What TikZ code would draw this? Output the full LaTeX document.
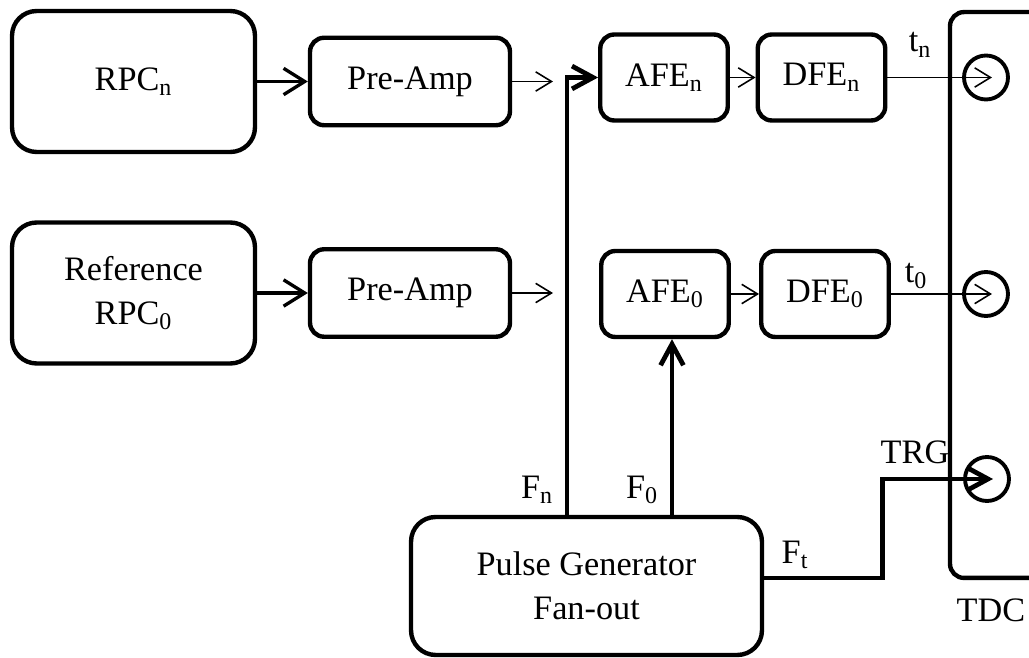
\documentclass[tikz,border=0pt]{standalone}
\usepackage{fontspec}
\setmainfont{Liberation Serif}
\usepackage{tikz}
\usetikzlibrary{positioning,arrows.meta,calc}

\begin{document}
\begin{tikzpicture}[
    x=0.02cm, y=-0.02cm,
    font=\fontsize{19.5}{25}\selectfont,
    detector/.style={draw, line width=2.5pt, rounded corners=14pt, align=center,
        minimum width=4.86cm, minimum height=2.82cm},
    amp/.style={draw, line width=2.5pt, rounded corners=8pt, align=center,
        minimum width=4cm, minimum height=1.75cm},
    frontend/.style={draw, line width=2.5pt, rounded corners=8pt, align=center,
        minimum width=2.55cm, minimum height=1.72cm},
    fanout/.style={draw, line width=2.5pt, rounded corners=14pt, align=center,
        minimum width=7.02cm, minimum height=2.76cm},
    tdcbox/.style={draw, line width=2.5pt, rounded corners=8pt,
        minimum width=2.4cm, minimum height=11.32cm},
    port/.style={draw, circle, line width=2.2pt, minimum size=0.88cm, inner sep=0pt},
    thinarrow/.style={-{Straight Barb[length=9pt,width=11pt]}, line width=0.9pt},
    thickarrow/.style={-{Straight Barb[length=12pt,width=15pt]}, line width=1.9pt},
    busarrow/.style={-{Straight Barb[length=12pt,width=13pt]}, line width=2.7pt}
]
\useasboundingbox (0,0) rectangle (1029,658);

% TDC with its three inputs
\node[tdcbox] (tdc) at (1010,295) {};
\node[port] (portn) at (986,77.5) {};
\node[port] (port0) at (986,294) {};
\node[port] (trg) at (987,479) {};
\node[inner sep=1pt] (tdclbl) at (991,610) {TDC};

% detector chains
\node[detector] (rpcn) at (133.5,81.5) {RPC\textsubscript{n}};
\node[amp] (ampn) at (410,81.5) {Pre-Amp};
\coordinate (ampnout) at (553,81.5);
\node[frontend] (afen) at (664,77.5) {AFE\textsubscript{n}};
\node[frontend] (dfen) at (821.5,77.5) {DFE\textsubscript{n}};
\draw[thickarrow] (rpcn) -- (ampn);
\draw[thinarrow] (ampn) -- (ampnout);
\draw[thinarrow] (afen) -- (dfen);
\draw[thinarrow] (dfen) -- ([xshift=0.12cm]portn.center);
\node (tn) at (920,45) {t\textsubscript{n}};

\node[detector] (rpc0) at (133.5,293) {Reference\\RPC\textsubscript{0}};
\node[amp] (amp0) at (410,293) {Pre-Amp};
\coordinate (amp0out) at (553,293);
\node[frontend] (afe0) at (665,294) {AFE\textsubscript{0}};
\node[frontend] (dfe0) at (825,294) {DFE\textsubscript{0}};
\draw[thickarrow] (rpc0) -- (amp0);
\draw[thinarrow] (amp0) -- (amp0out);
\draw[thinarrow] (afe0) -- (dfe0);
\draw[thinarrow] (dfe0) -- ([xshift=0.12cm]port0.center);
\node (t0) at (916,276) {t\textsubscript{0}};

% pulse generator and fan-out lines
\node[fanout] (pulse) at (586.5,586) {Pulse Generator\\Fan-out};
\draw[busarrow] ([xshift=-0.39cm]pulse.north) |- (afen.west);
\draw[busarrow] ([xshift=0.14cm]afe0.south |- pulse.north) -- ([xshift=0.14cm]afe0.south);
\draw[busarrow] ([yshift=0.16cm]pulse.east) -- ++(2.36cm,0) |- ([xshift=0.12cm]trg.center);
\node (fnlbl) at (537,490) {F\textsubscript{n}};
\node (f0lbl) at (642,490) {F\textsubscript{0}};
\node (ftlbl) at (795,555) {F\textsubscript{t}};
\node (trglbl) at (915,452) {TRG};
\end{tikzpicture}
\end{document}
